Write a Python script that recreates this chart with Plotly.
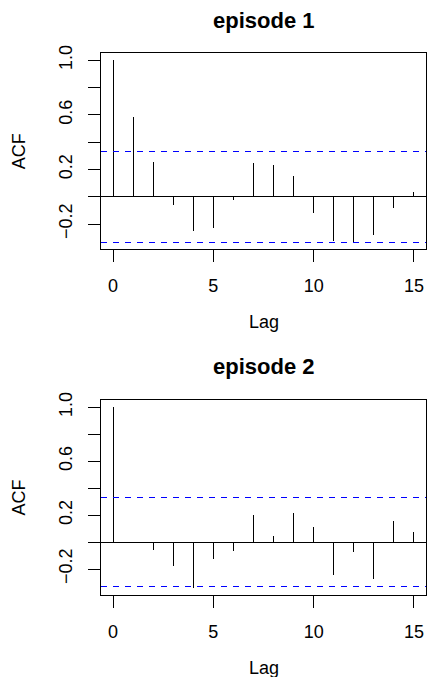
import plotly.graph_objects as go
from plotly.subplots import make_subplots

lags = list(range(16))
acf_ep1 = [1.0, 0.587, 0.253, -0.064, -0.251, -0.229, -0.022, 0.248, 0.236, 0.152,
           -0.120, -0.322, -0.329, -0.283, -0.084, 0.037]
acf_ep2 = [1.0, 0.004, -0.057, -0.181, -0.339, -0.126, -0.067, 0.203, 0.042, 0.215,
           0.111, -0.243, -0.074, -0.275, 0.156, 0.077]
clims = [0.332, 0.333]
titles = ["episode 1", "episode 2"]
series = [acf_ep1, acf_ep2]
ytick_vals = [-0.2, 0.0, 0.2, 0.4, 0.6, 0.8, 1.0]
ytick_text = ["\u22120.2", "", "0.2", "", "0.6", "", "1.0"]
xtick_vals = [0, 5, 10, 15]

FONT = "Liberation Sans, Arial, Helvetica, sans-serif"

W, H = 427, 677
ML, MR, MT, MB = 101, 1, 53, 82
PH = H - MT - MB
PW = W - ML - MR

def py(px):
    return (H - MB - px) / PH

def pxx(px):
    return (px - ML) / PW

domains = [[py(249.3), 1.0], [0.0, py(400)]]

fig = make_subplots(rows=2, cols=1)

annotations = []
shapes = []
for i, (vals, clim) in enumerate(zip(series, clims)):
    r = i + 1
    xs, ys = [], []
    for l, v in zip(lags, vals):
        xs += [l, l, None]
        ys += [0, v, None]
    fig.add_trace(go.Scatter(x=xs, y=ys, mode="lines",
                             line=dict(color="black", width=1),
                             showlegend=False, hoverinfo="skip"), row=r, col=1)
    lo = min(min(vals), -clim)
    hi = max(max(vals), clim)
    span = hi - lo
    yr = [lo - 0.04 * span, hi + 0.04 * span]
    xr = [lags[0] - 0.04 * (lags[-1] - lags[0]), lags[-1] + 0.04 * (lags[-1] - lags[0])]
    axn = "" if r == 1 else str(r)
    fig.update_xaxes(range=xr, tickvals=xtick_vals, ticks="outside", ticklen=12,
                     tickwidth=1, tickcolor="black", showline=True, mirror=True,
                     linecolor="black", linewidth=1, showgrid=False, zeroline=False,
                     tickfont=dict(family=FONT, size=18, color="black"),
                     ticklabelstandoff=8, row=r, col=1)
    fig.update_yaxes(range=yr, tickvals=ytick_vals, ticktext=ytick_text,
                     ticks="outside", ticklen=12, tickwidth=1, tickcolor="black",
                     showline=True, mirror=True, linecolor="black", linewidth=1,
                     showgrid=False, zeroline=False, tickangle=-90,
                     tickfont=dict(family=FONT, size=18, color="black"),
                     ticklabelstandoff=9, domain=domains[i], row=r, col=1)
    xref = "x" + axn
    yref = "y" + axn
    shapes.append(dict(type="line", xref=xref + " domain", yref=yref, x0=0, x1=1,
                       y0=0, y1=0, line=dict(color="black", width=1)))
    for c in (clim, -clim):
        shapes.append(dict(type="line", xref=xref + " domain", yref=yref, x0=0, x1=1,
                           y0=c, y1=c, line=dict(color="blue", width=1, dash="6px,6px")))

title_px = [21, 366.7]
lag_px = [322, 668]
acf_px = [151.3, 497.5]
for i in range(2):
    annotations.append(dict(text="<b>" + titles[i] + "</b>", xref="paper", yref="paper",
                            x=0.5, y=py(title_px[i]), xanchor="center", yanchor="middle",
                            showarrow=False, font=dict(family=FONT, size=22, color="black")))
    annotations.append(dict(text="Lag", xref="paper", yref="paper",
                            x=0.5, y=py(lag_px[i]), xanchor="center", yanchor="middle",
                            showarrow=False, font=dict(family=FONT, size=18, color="black")))
    annotations.append(dict(text="ACF", xref="paper", yref="paper", textangle=-90,
                            x=pxx(19), y=py(acf_px[i]), xanchor="center", yanchor="middle",
                            showarrow=False, font=dict(family=FONT, size=18, color="black")))

fig.update_layout(width=W, height=H, margin=dict(l=ML, r=MR, t=MT, b=MB),
                  plot_bgcolor="white", paper_bgcolor="white",
                  shapes=shapes, annotations=annotations, showlegend=False)

post = (
    "document.body.style.margin='0';document.body.style.overflow='hidden';"
    "document.querySelectorAll('path').forEach(function(p){"
    "p.setAttribute('shape-rendering','crispEdges');});"
)
fig.write_html("out.html", config={"displayModeBar": False, "staticPlot": True},
               post_script=post)
